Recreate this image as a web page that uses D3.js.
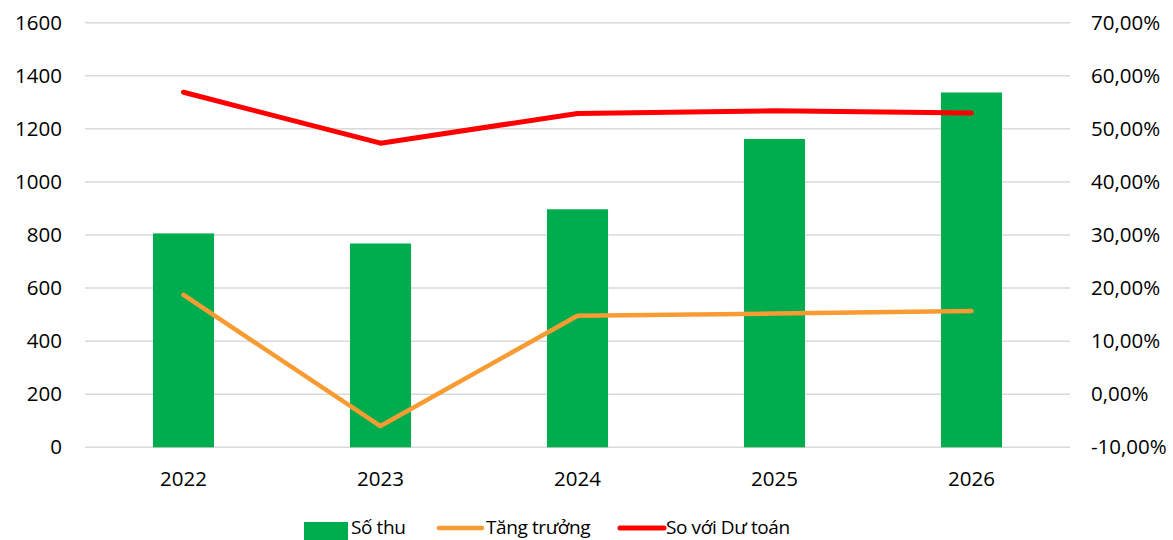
<!DOCTYPE html>
<html><head><meta charset="utf-8">
<script src="https://cdn.jsdelivr.net/npm/d3@7/dist/d3.min.js"></script>
<style>
html,body{margin:0;padding:0;background:#fff;}
svg{display:block;font-family:"Open Sans",sans-serif;}
</style></head>
<body>
<svg id="chart" width="1173" height="540"></svg>
<script>
const years = ["2022","2023","2024","2025","2026"];
const soThu = [806, 768, 897, 1162, 1337];
const tangTruong = [0.187, -0.060, 0.148, 0.152, 0.157];
const soVoiDuToan = [0.569, 0.473, 0.529, 0.534, 0.530];
const leftTicks = [0,200,400,600,800,1000,1200,1400,1600];
const rightTicks = [-0.1,0,0.1,0.2,0.3,0.4,0.5,0.6,0.7];
const seriesNames = ["Số thu","Tăng trưởng","So với Dư toán"];
const colors = {bar:"#00AD4E", orange:"#F89B33", red:"#FF0000", grid:"#D9D9D9", text:"#000"};

const svg = d3.select("#chart");
const L = 85, R = 1070, T = 22.7, B = 447.3;
const fs = "20.5px";

const x = d3.scaleBand().domain(years).range([L,R]).paddingInner(0.69).paddingOuter(0.345);
const xc = d => x(d) + x.bandwidth()/2;
const yL = d3.scaleLinear().domain([0,1600]).range([B,T]);
const yR = d3.scaleLinear().domain([-0.1,0.7]).range([B,T]);

// gridlines
svg.append("g").selectAll("line").data(leftTicks).join("line")
  .attr("x1",L).attr("x2",R).attr("y1",d=>yL(d)).attr("y2",d=>yL(d))
  .attr("stroke",colors.grid).attr("stroke-width",1.5);

// left axis
const axL = d3.axisLeft(yL).tickValues(leftTicks).tickSize(0).tickPadding(0).tickFormat(d=>String(d));
const gL = svg.append("g").attr("transform",`translate(62,0)`).call(axL);
gL.select(".domain").remove();
gL.selectAll("text").attr("font-size",fs).attr("fill",colors.text).attr("font-family","Open Sans");

// right axis
const fmtPct = d => (d*100).toFixed(2).replace(".",",") + "%";
const axR = d3.axisRight(yR).tickValues(rightTicks).tickSize(0).tickPadding(0).tickFormat(fmtPct);
const gR = svg.append("g").attr("transform",`translate(1091,0)`).call(axR);
gR.select(".domain").remove();
gR.selectAll("text").attr("font-size",fs).attr("fill",colors.text).attr("font-family","Open Sans");

// x axis
const axX = d3.axisBottom(x).tickSize(0).tickPadding(0);
const gX = svg.append("g").attr("transform",`translate(0,${B})`).call(axX);
gX.select(".domain").remove();
gX.selectAll("text").attr("font-size",fs).attr("fill",colors.text).attr("font-family","Open Sans").attr("dy",null).attr("y",39);

// bars
svg.append("g").selectAll("rect").data(years).join("rect")
  .attr("x",d=>x(d)).attr("width",x.bandwidth())
  .attr("y",(d,i)=>yL(soThu[i])).attr("height",(d,i)=>B-yL(soThu[i]))
  .attr("fill",colors.bar);

// lines
const line = d3.line().x(d=>xc(d[0])).y(d=>yR(d[1]));
svg.append("path").datum(years.map((y,i)=>[y,tangTruong[i]]))
  .attr("d",line).attr("fill","none").attr("stroke",colors.orange)
  .attr("stroke-width",4.5).attr("stroke-linecap","round").attr("stroke-linejoin","round");
svg.append("path").datum(years.map((y,i)=>[y,soVoiDuToan[i]]))
  .attr("d",line).attr("fill","none").attr("stroke",colors.red)
  .attr("stroke-width",5).attr("stroke-linecap","round").attr("stroke-linejoin","round");

// legend
const lg = svg.append("g").attr("font-size","19px").attr("letter-spacing","-0.4px").attr("fill",colors.text);
lg.append("rect").attr("x",304).attr("y",522).attr("width",44).attr("height",18).attr("fill",colors.bar);
lg.append("text").attr("x",351).attr("y",534).text(seriesNames[0]);
lg.append("line").attr("x1",439).attr("x2",482).attr("y1",528).attr("y2",528)
  .attr("stroke",colors.orange).attr("stroke-width",4.5).attr("stroke-linecap","round");
lg.append("text").attr("x",486).attr("y",534).text(seriesNames[1]);
lg.append("line").attr("x1",620).attr("x2",664).attr("y1",528).attr("y2",528)
  .attr("stroke",colors.red).attr("stroke-width",5).attr("stroke-linecap","round");
lg.append("text").attr("x",666).attr("y",534).text(seriesNames[2]);
</script>
</body></html>
